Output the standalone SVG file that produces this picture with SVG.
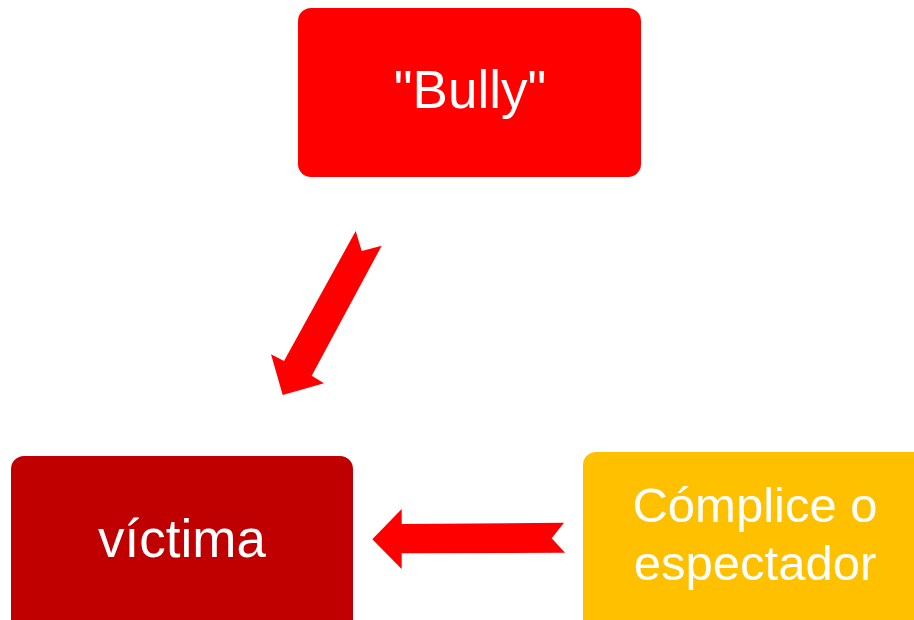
<svg xmlns="http://www.w3.org/2000/svg" width="914" height="620" viewBox="0 0 914 620">
<style>
.lbl{font-family:"Liberation Sans",Arial,sans-serif;font-size:53px;fill:#fff;text-anchor:middle}
.sm{font-size:49px}
.arr{fill:#ff0000}
</style>
<rect width="914" height="620" fill="#fff"/>
<g id="connectors">
<path class="arr" d="M355.7,231 L361.7,251 L381.7,245.7 L311.7,375.7 L324,383.3 L282.7,395 L271,354.3 L284,361 Z"/>
<path class="arr" d="M372.3,539.3 L401.7,509 L401.7,524 L564,522.7 L551.7,538.3 L565,552.7 L401.7,553.3 L401.7,569 Z"/>
</g>
<g id="bully">
<rect x="298" y="8" width="343" height="169" rx="13" fill="#ff0000"/>
<text class="lbl" x="470" y="108">"Bully"</text>
</g>
<g id="victima">
<rect x="11" y="456" width="342" height="180" rx="13" fill="#c00000"/>
<text class="lbl" x="182" y="557">víctima</text>
</g>
<g id="complice">
<rect x="583" y="452" width="345" height="184" rx="13" fill="#ffc000"/>
<text class="lbl sm" x="755" y="522">Cómplice o</text>
<text class="lbl sm" x="755" y="580">espectador</text>
</g>
</svg>
